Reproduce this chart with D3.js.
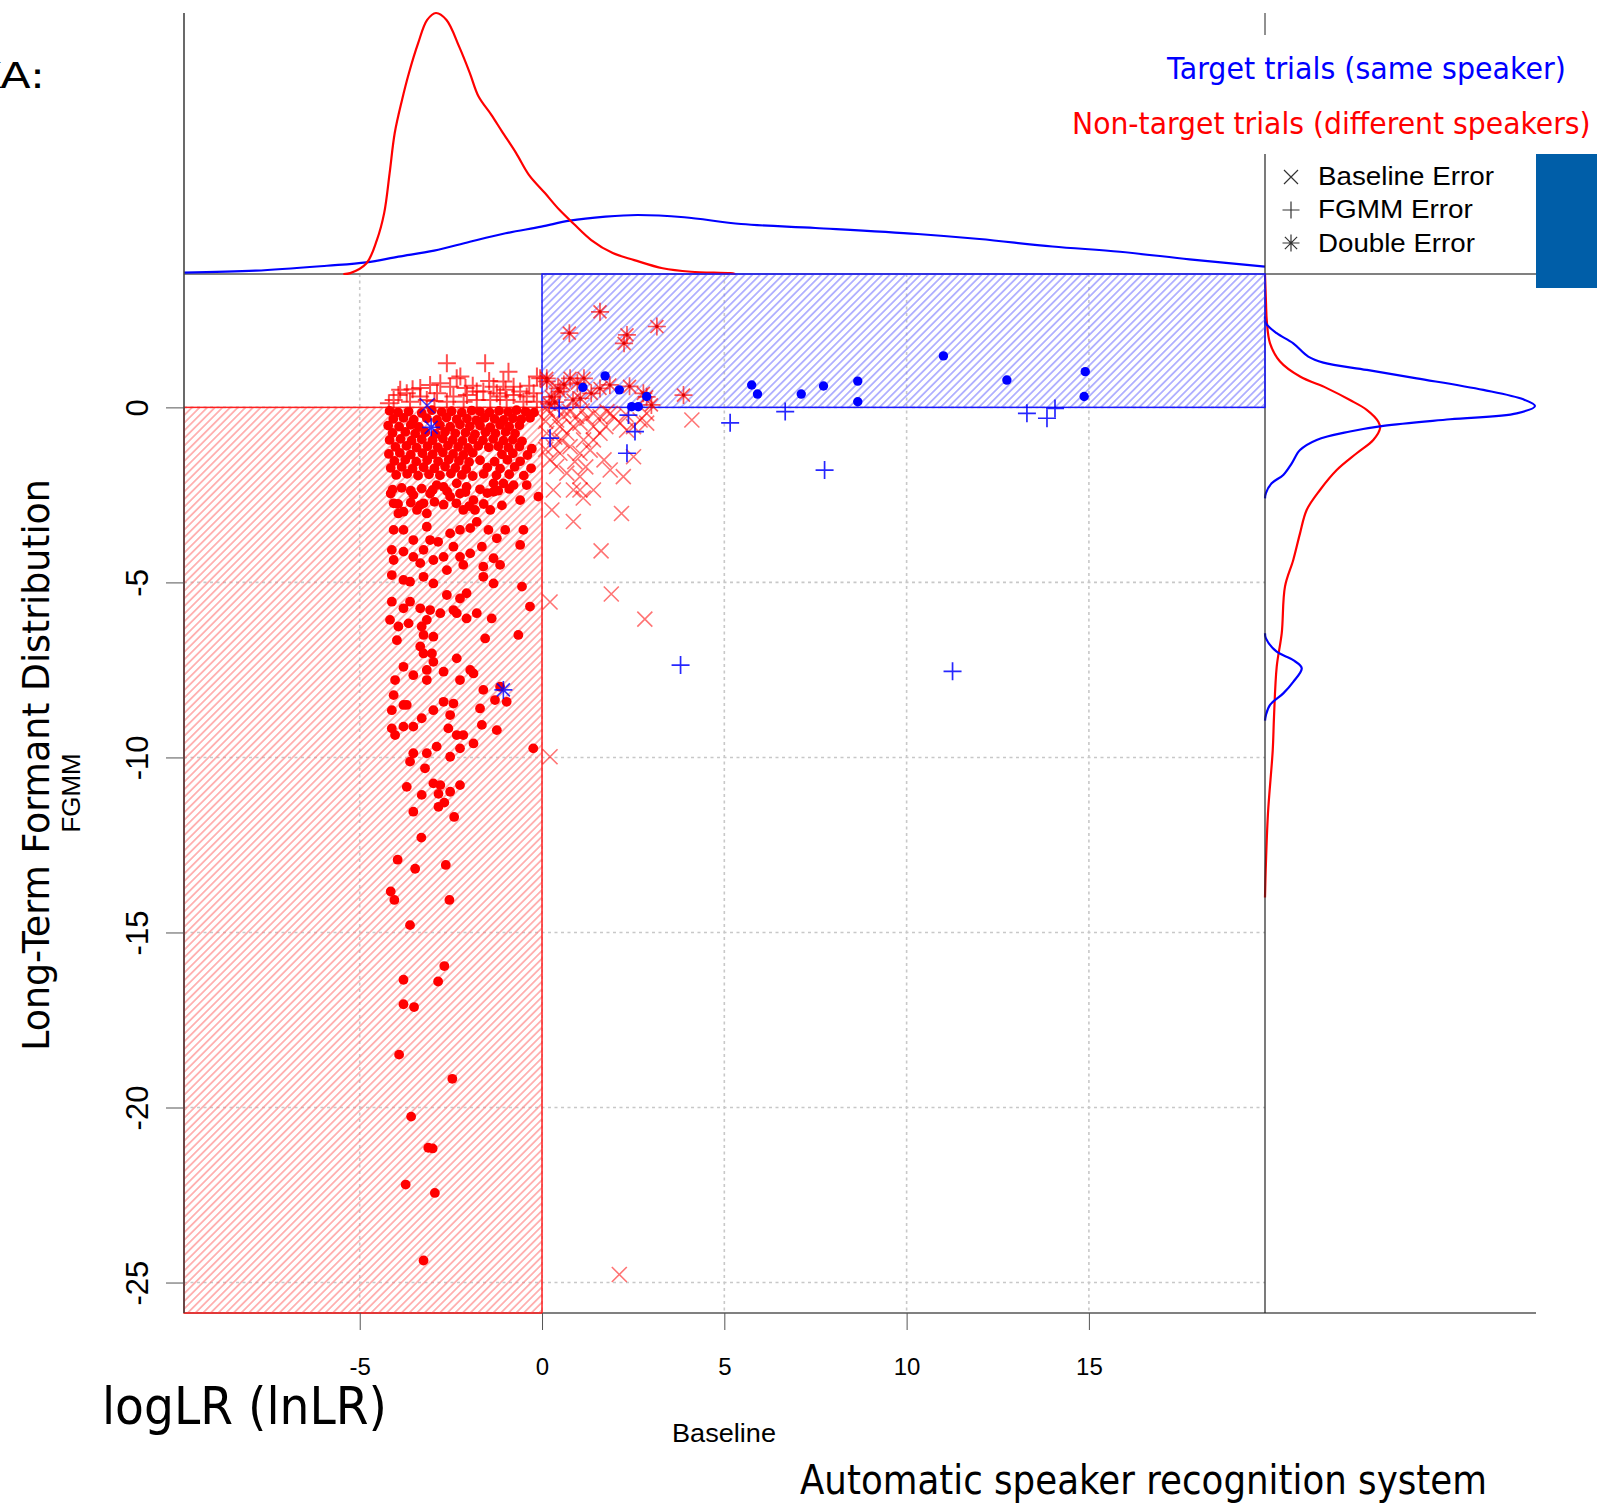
<!DOCTYPE html>
<html>
<head>
<meta charset="utf-8">
<script src="https://cdn.jsdelivr.net/npm/d3@7"></script>
<style>
body { margin: 0; background: #fff; }
svg { display: block; }
</style>
</head>
<body>
<script>
// axes
var xTicks = [-5, 0, 5, 10, 15]
var yTicks = [0, -5, -10, -15, -20, -25]
var xDomain = [-9.82, 19.83]
var yDomain = [-25.87, 3.81]

var seriesLabels = ["Target trials (same speaker)", "Non-target trials (different speakers)"]
var legendLabels = ["Baseline Error", "FGMM Error", "Double Error"]

// marginal densities: [score, density]
var topNontarget = [[-5.45,0],[-5.26,0.001],[-4.82,0.012],[-4.53,0.039],[-4.33,0.070],[-4.18,0.116],[-4.04,0.162],
	[-3.84,0.200],[-3.65,0.231],[-3.40,0.265],[-3.15,0.292],[-2.91,0.300],[-2.62,0.292],[-2.27,0.261],[-1.98,0.231],
	[-1.74,0.204],[-1.39,0.183],[-1.10,0.164],[-0.71,0.139],[-0.36,0.114],[0.08,0.093],[0.47,0.074],[0.86,0.058],
	[1.35,0.039],[1.94,0.024],[2.53,0.016],[3.31,0.0066],[4.09,0.0026],[5.17,0.001],[5.3,0]]
var topTarget = [[-9.82,0.0015],[-7.86,0.0038],[-5.90,0.0095],[-4.82,0.0134],[-3.94,0.0199],[-2.96,0.0268],
	[-1.98,0.0371],[-1.00,0.0468],[-0.02,0.0544],[0.76,0.0613],[1.74,0.0659],[2.62,0.0678],[3.90,0.0652],
	[5.46,0.0575],[7.5,0.0529],[10.3,0.046],[12.0,0.0402],[14.0,0.0316],[15.85,0.0256],[17.76,0.0169],[19.83,0.0084]]
var rightNontarget = [[3.81,0],[3.0,0.0011],[2.47,0.002],[1.83,0.0056],[1.31,0.0167],[0.88,0.0389],[0.55,0.0686],
	[0.21,0.0944],[-0.07,0.113],[-0.41,0.1259],[-0.60,0.1278],[-0.93,0.1203],[-1.31,0.1019],[-1.79,0.0797],
	[-2.36,0.0611],[-2.93,0.0463],[-3.60,0.0389],[-4.36,0.0314],[-5.12,0.0222],[-6.45,0.0186],[-7.41,0.013],
	[-8.84,0.01],[-9.79,0.0086],[-11.6,0.0033],[-13.2,0.0008],[-14.0,0]]
var rightTarget = [[2.6,0],[2.40,0.001],[2.12,0.013],[1.83,0.0314],[1.45,0.0481],[1.28,0.0648],[1.07,0.113],
	[0.83,0.1686],[0.50,0.2426],[0.23,0.287],[0.04,0.300],[-0.17,0.2797],[-0.34,0.2056],[-0.53,0.1314],
	[-0.69,0.0944],[-0.93,0.0574],[-1.22,0.0389],[-1.60,0.0297],[-1.93,0.0203],[-2.17,0.0074],[-2.45,0.001],
	[-2.6,0]]
var rightTargetBump = [[-6.45,0],[-6.60,0.001],[-6.98,0.013],[-7.22,0.0314],[-7.45,0.0408],[-7.84,0.0314],
	[-8.17,0.0203],[-8.50,0.0056],[-8.79,0.001],[-8.95,0]]

// scatter: [baseline, FGMM]
var nontargetOk = [
	[-4.18,-0.10],[-3.95,-0.14],[-3.66,-0.12],[-3.30,-0.16],[-3.02,-0.08],[-2.75,-0.13],[-2.48,-0.11],[-2.20,-0.15],
	[-1.93,-0.09],[-1.70,-0.12],[-1.44,-0.14],[-1.18,-0.10],[-0.93,-0.13],[-0.70,-0.08],[-0.45,-0.12],[-0.22,-0.15],
	[-4.08,-0.33],[-3.80,-0.30],[-3.52,-0.35],[-3.16,-0.31],[-2.88,-0.36],[-2.62,-0.29],[-2.34,-0.34],[-2.06,-0.32],
	[-1.80,-0.37],[-1.57,-0.30],[-1.30,-0.33],[-1.05,-0.36],[-0.80,-0.31],[-0.57,-0.34],[-0.33,-0.30],
	[-4.22,-0.52],[-3.92,-0.55],[-3.60,-0.50],[-3.38,-0.56],[-2.80,-0.51],[-2.52,-0.55],[-2.25,-0.49],[-1.98,-0.54],
	[-1.70,-0.52],[-1.42,-0.57],[-1.15,-0.50],[-0.90,-0.55],[-0.62,-0.51],
	[-4.10,-0.73],[-3.75,-0.70],[-3.48,-0.75],[-3.20,-0.71],[-2.92,-0.76],[-2.66,-0.70],[-2.38,-0.74],[-2.10,-0.72],
	[-1.84,-0.77],[-1.55,-0.71],[-1.28,-0.74],[-1.00,-0.70],[-0.74,-0.75],
	[-4.18,-0.93],[-3.88,-0.90],[-3.58,-0.95],[-3.30,-0.91],[-3.00,-0.94],[-2.72,-0.89],[-2.45,-0.93],[-2.18,-0.96],
	[-1.90,-0.91],[-1.62,-0.94],[-1.34,-0.90],[-1.06,-0.95],[-0.80,-0.92],[-0.55,-0.97],
	[-4.02,-1.13],[-3.72,-1.10],[-3.44,-1.15],[-3.14,-1.11],[-2.86,-1.14],[-2.58,-1.09],[-2.30,-1.13],[-2.03,-1.16],
	[-1.75,-1.10],[-1.46,-1.14],[-1.20,-1.11],[-0.92,-1.15],[-0.62,-1.12],[-0.28,-1.18],
	[-4.20,-1.33],[-3.90,-1.30],[-3.60,-1.35],[-3.28,-1.31],[-3.00,-1.34],[-2.72,-1.29],[-2.44,-1.33],[-2.16,-1.36],
	[-1.90,-1.30],[-1.10,-1.34],[-0.80,-1.31],[-0.40,-1.36],
	[-4.05,-1.53],[-3.75,-1.50],[-3.45,-1.55],[-3.15,-1.51],[-2.85,-1.54],[-2.56,-1.49],[-2.28,-1.53],[-2.00,-1.56],
	[-1.70,-1.51],[-1.30,-1.55],[-0.95,-1.50],[-0.60,-1.54],
	[-4.15,-1.73],[-3.85,-1.70],[-3.55,-1.75],[-3.25,-1.71],[-2.95,-1.74],[-2.66,-1.69],[-2.38,-1.73],[-2.08,-1.76],
	[-1.50,-1.72],[-1.15,-1.75],[-0.75,-1.70],[-0.30,-1.74],
	[-4.00,-1.93],[-3.70,-1.90],[-3.40,-1.95],[-3.10,-1.91],[-2.80,-1.94],[-2.50,-1.89],[-2.20,-1.93],[-1.90,-1.96],
	[-1.60,-1.90],[-1.25,-1.94],[-0.90,-1.91],[-0.50,-1.95],
	[-4.10,-2.35],[-3.85,-2.30],[-3.60,-2.38],[-3.30,-2.32],[-3.00,-2.36],[-2.60,-2.40],[-2.10,-2.42],[-1.70,-2.34],
	[-1.50,-2.45],[-1.20,-2.38],[-0.90,-2.33],
	[-3.95,-2.76],[-3.60,-2.72],[-3.35,-2.80],[-2.95,-2.70],[-2.70,-2.78],[-2.35,-2.74],[-2.00,-2.82],[-1.60,-2.76],[-1.10,-2.80],
	[-4.15,-2.46],[-4.07,-2.74],[-3.94,-3.03],[-3.80,-2.98],[-3.53,-2.50],[-3.43,-2.93],[-3.25,-2.74],[-3.16,-3.03],
	[-3.07,-2.46],[-2.89,-2.22],[-2.70,-2.27],[-2.52,-2.55],[-2.34,-2.17],[-2.25,-2.46],[-2.16,-2.93],[-2.07,-2.27],
	[-1.88,-2.65],[-1.84,-2.93],[-1.42,-2.93],[-1.33,-2.17],[-1.33,-2.41],[-1.06,-2.17],[-0.78,-2.22],[-0.60,-2.65],
	[-0.42,-2.22],[-0.10,-2.55],
	[-4.07,-3.50],[-3.80,-3.50],[-3.53,-3.79],[-3.16,-3.41],[-3.07,-3.79],[-2.85,-3.84],[-2.52,-3.60],[-2.25,-3.50],
	[-1.97,-3.45],[-1.79,-3.27],[-1.47,-3.50],[-1.24,-3.74],[-1.01,-3.50],[-0.51,-3.50],
	[-4.12,-4.07],[-4.07,-4.36],[-3.80,-4.12],[-3.53,-4.27],[-3.34,-4.45],[-3.25,-4.07],[-2.98,-4.36],[-2.70,-4.27],
	[-2.61,-4.65],[-2.43,-3.98],[-2.25,-4.27],[-2.16,-4.50],[-1.97,-4.17],[-1.65,-3.98],[-1.61,-4.55],[-1.33,-4.31],
	[-1.15,-4.50],[-0.60,-3.93],
	[-4.12,-4.79],[-3.80,-4.93],[-3.62,-4.98],[-3.25,-4.84],[-2.98,-5.03],[-2.61,-5.36],[-2.25,-5.46],[-2.07,-5.31],
	[-1.61,-4.84],[-1.33,-5.03],[-0.55,-5.12],
	[-4.12,-5.55],[-3.80,-5.74],[-3.62,-5.55],[-3.34,-5.74],[-3.07,-5.79],[-2.79,-5.88],[-2.43,-5.79],[-2.07,-6.03],
	[-1.79,-5.88],[-1.38,-6.03],[-0.33,-5.69],
	[-4.17,-6.07],[-3.94,-6.26],[-3.66,-6.17],[-3.30,-6.26],[-3.16,-6.07],[-2.98,-6.55],[-3.25,-6.50],[-3.98,-6.65],
	[-2.34,-5.88],[-1.56,-6.60],[-0.65,-6.50],
	[-3.34,-6.83],[-3.25,-7.03],[-3.02,-7.03],[-3.80,-7.41],[-3.53,-7.65],[-3.16,-7.50],[-2.70,-7.55],[-2.34,-7.17],
	[-1.97,-7.50],[-1.88,-7.60],[-2.98,-7.27],
	[-4.03,-7.79],[-3.16,-7.79],[-2.25,-7.79],[-1.61,-8.07],[-1.29,-8.36],[-0.97,-8.41],[-1.15,-7.98],
	[-4.07,-8.22],[-3.80,-8.50],[-3.71,-8.50],[-2.98,-8.65],[-2.70,-8.41],[-2.43,-8.46],[-2.52,-8.79],[-1.70,-8.60],
	[-3.30,-8.88],[-4.12,-8.65],
	[-4.12,-9.17],[-3.80,-9.12],[-3.53,-9.12],[-4.03,-9.36],[-2.57,-9.17],[-2.34,-9.36],[-2.16,-9.36],[-1.24,-9.22],
	[-1.65,-9.07],[-1.88,-9.60],[-0.24,-9.74],
	[-3.53,-9.88],[-3.16,-9.88],[-2.89,-9.69],[-2.52,-9.98],[-2.25,-9.74],[-3.62,-10.12],[-3.21,-10.31],
	[-3.71,-10.84],[-3.30,-11.07],[-2.98,-10.74],[-2.79,-10.79],[-2.52,-10.98],[-2.25,-10.79],
	[-2.84,-11.04],[-3.53,-11.55],[-2.84,-11.41],[-2.68,-11.29],[-2.41,-11.70],[-3.31,-12.29],[-3.96,-12.92],
	[-3.48,-13.18],[-2.64,-13.07],[-4.15,-13.83],[-4.05,-14.07],[-2.54,-14.07],[-3.62,-14.79],[-2.68,-15.96],
	[-3.80,-16.35],[-2.85,-16.40],[-3.80,-17.05],[-3.51,-17.13],[-3.92,-18.49],[-2.46,-19.18],[-3.59,-20.26],
	[-3.12,-21.15],[-3.00,-21.17],[-3.74,-22.20],[-2.94,-22.44],[-3.25,-24.37]
]
var nontargetBaselineErr = [
	[0.22,-0.17],[0.40,-0.36],[0.59,-0.26],[0.77,-0.12],[0.95,-0.26],[0.49,-0.55],[0.68,-0.74],[0.86,-0.55],
	[1.04,-0.45],[1.23,-0.31],[1.41,-0.17],[1.59,-0.26],[1.78,-0.12],[1.96,-0.26],[2.14,-0.45],[2.32,-0.65],
	[2.51,-0.55],[2.69,-0.36],[2.87,-0.45],[0.31,-1.12],[0.49,-1.31],[0.77,-1.12],[1.04,-1.31],[1.41,-0.93],
	[1.59,-0.74],[1.87,-1.79],[2.23,-1.98],[2.51,-1.41],[1.04,-1.98],[1.41,-2.36],[0.31,-2.36],[0.86,-2.36],
	[2.87,-0.17],[4.11,-0.36],[1.87,-0.17],[1.41,-0.55],[1.14,-0.93],[1.32,-1.22],[0.13,-0.74],[0.40,-1.69],
	[0.68,-1.88],[0.22,-1.50],[1.04,-2.36],[1.13,-2.59],[0.27,-2.93],[0.86,-3.26],[2.18,-3.03],[1.62,-4.10],
	[1.90,-5.33],[2.82,-6.05],[0.22,-5.56],[0.22,-9.98],[2.12,-24.77],[0.10,-0.40],[0.15,-0.05],[0.35,-0.85],
	[0.55,-0.95],[0.90,-1.55],[1.20,-1.70],[0.10,-1.20],[0.60,-0.10],[1.10,-0.10],[2.30,-0.20],[1.75,-0.55],[1.70,-1.50]
]
var nontargetFgmmErr = [
	[-2.61,1.26],[-1.56,1.26],[-0.92,1.02],[-2.24,0.88],[-3.89,0.50],[-3.94,0.35],[-3.71,0.40],[-3.34,0.55],
	[-3.07,0.64],[-2.79,0.69],[-2.88,0.40],[-2.52,0.59],[-2.34,0.83],[-2.06,0.35],[-1.79,0.45],[-1.61,0.45],
	[-1.33,0.59],[-1.24,0.40],[-1.06,0.74],[-0.78,0.59],[-0.60,0.45],[-0.42,0.31],[-0.23,0.40],[-0.14,0.88],
	[-0.05,0.83],[-4.07,0.21],[-3.62,0.16],[-3.16,0.21],[-2.61,0.16],[-2.15,0.16],[-1.79,0.21],[-1.42,0.21],
	[-0.97,0.21],[-0.51,0.16],[-0.14,0.16],[-3.34,0.31],[-2.43,0.31],[-1.15,0.31],[-0.78,0.35],[-1.90,0.62],
	[-2.10,0.55],[-1.45,0.75],[-3.55,0.52],[-0.35,0.62],[-2.95,0.18],[-4.20,0.12],[-1.00,0.50]
]
var nontargetDoubleErr = [
	[1.59,2.73],[0.75,2.12],[2.33,2.07],[2.25,1.83],[3.15,2.31],[3.88,0.35],[0.13,0.83],[0.77,0.83],[0.97,0.69],
	[1.15,0.83],[1.59,0.54],[1.86,0.64],[0.44,0.54],[0.26,0.30],[0.85,0.21],[2.78,0.40],[2.87,0.30],[3.00,0.07],
	[1.05,0.26],[0.13,0.74],[0.49,0.45],[0.35,0.15],[0.60,0.65],[0.20,0.10],[1.35,0.40],[2.40,0.60]
]
var targetOk = [
	[1.73,0.90],[2.12,0.50],[1.12,0.57],[2.46,0.02],[2.64,0.02],[2.87,0.31],[5.75,0.64],[5.91,0.38],[7.11,0.38],
	[7.72,0.61],[8.66,0.75],[8.66,0.16],[11.01,1.47],[12.75,0.78],[14.90,1.02],[14.87,0.31]
]
var targetBaselineErr = [[-3.15,0.05]]
var targetFgmmErr = [
	[0.47,-0.03],[2.37,-0.22],[2.55,-0.69],[2.33,-1.31],[5.16,-0.44],[6.67,-0.12],[7.75,-1.79],[0.22,-0.88],
	[13.30,-0.17],[13.85,-0.31],[14.07,-0.03],[3.80,-7.36],[11.26,-7.54]
]
var targetDoubleErr = [[-3.04,-0.57],[-1.06,-8.07]]

var w = 1597
var h = 1504

var svg = d3.select("body").append("svg")
	.attr("width", w)
	.attr("height", h)

var x = d3.scaleLinear().domain(xDomain).range([184, 1265])
var y = d3.scaleLinear().domain(yDomain).range([1313, 274])
var dTop = d3.scaleLinear().domain([0, 0.3]).range([274, 13])
var dRight = d3.scaleLinear().domain([0, 0.3]).range([1265, 1535])

var defs = svg.append("defs")
function hatch(id, color) {
	defs.append("pattern")
		.attr("id", id)
		.attr("patternUnits", "userSpaceOnUse")
		.attr("width", 5.4)
		.attr("height", 5.4)
		.attr("patternTransform", "rotate(45)")
		.append("line")
		.attr("x1", 2.7).attr("y1", 0)
		.attr("x2", 2.7).attr("y2", 5.4)
		.attr("stroke", color)
		.attr("stroke-width", 1.1)
}
hatch("hatchRed", "#ff7d7d")
hatch("hatchBlue", "#7d7dff")

// grid
var grid = svg.append("g")
	.attr("stroke", "#c8c8c8")
	.attr("stroke-width", 1.6)
	.attr("stroke-dasharray", "3,3.5")
grid.selectAll(".vg").data(xTicks).enter().append("line")
	.attr("x1", (d) => x(d)).attr("x2", (d) => x(d))
	.attr("y1", y.range()[1]).attr("y2", y.range()[0])
grid.selectAll(".hg").data(yTicks).enter().append("line")
	.attr("y1", (d) => y(d)).attr("y2", (d) => y(d))
	.attr("x1", x.range()[0]).attr("x2", x.range()[1])

// frame lines
svg.append("line")
	.attr("x1", 184).attr("x2", 1536)
	.attr("y1", y(yDomain[1])).attr("y2", y(yDomain[1]))
	.attr("stroke", "#808080").attr("stroke-width", 2)
svg.append("line")
	.attr("x1", 184).attr("x2", 1536)
	.attr("y1", y(yDomain[0])).attr("y2", y(yDomain[0]))
	.attr("stroke", "#808080").attr("stroke-width", 2)
svg.append("line")
	.attr("x1", x(xDomain[1])).attr("x2", x(xDomain[1]))
	.attr("y1", 13).attr("y2", 35)
	.attr("stroke", "#222").attr("stroke-width", 1)

// decision regions
svg.append("rect")
	.attr("x", x(xDomain[0])).attr("y", y(0))
	.attr("width", x(0) - x(xDomain[0]))
	.attr("height", y(yDomain[0]) - y(0))
	.attr("fill", "url(#hatchRed)")
	.attr("stroke", "#ff2020").attr("stroke-width", 1.5)

// marginal densities
var topLine = d3.line().x((d) => x(d[0])).y((d) => dTop(d[1])).curve(d3.curveCatmullRom)
var rightLine = d3.line().x((d) => dRight(d[1])).y((d) => y(d[0])).curve(d3.curveCatmullRom)
svg.append("path").attr("d", topLine(topTarget))
	.attr("fill", "none").attr("stroke", "#0000ff").attr("stroke-width", 2.2)
svg.append("path").attr("d", topLine(topNontarget))
	.attr("fill", "none").attr("stroke", "#ff0000").attr("stroke-width", 2.2)
svg.append("path").attr("d", rightLine(rightNontarget))
	.attr("fill", "none").attr("stroke", "#ff0000").attr("stroke-width", 2.2)
svg.append("path").attr("d", rightLine(rightTarget))
	.attr("fill", "none").attr("stroke", "#0000ff").attr("stroke-width", 2.2)
svg.append("path").attr("d", rightLine(rightTargetBump))
	.attr("fill", "none").attr("stroke", "#0000ff").attr("stroke-width", 2.2)

svg.append("line")
	.attr("x1", x(xDomain[1])).attr("x2", x(xDomain[1]))
	.attr("y1", 154).attr("y2", y(yDomain[0]))
	.attr("stroke", "#222").attr("stroke-width", 1.2)
svg.append("rect")
	.attr("x", x(0)).attr("y", y(yDomain[1]))
	.attr("width", x(xDomain[1]) - x(0))
	.attr("height", y(0) - y(yDomain[1]))
	.attr("fill", "url(#hatchBlue)")
	.attr("stroke", "#1a1aff").attr("stroke-width", 1.5)
svg.append("line")
	.attr("x1", 184).attr("x2", 184)
	.attr("y1", 13).attr("y2", y(yDomain[0]))
	.attr("stroke", "#444").attr("stroke-width", 1.6)

// marker shapes
function plusPath(s) { return "M" + (-s) + ",0H" + s + "M0," + (-s) + "V" + s }
function crossPath(s) { return "M" + (-s) + "," + (-s) + "L" + s + "," + s + "M" + (-s) + "," + s + "L" + s + "," + (-s) }
function starPath(s) { return plusPath(s) + crossPath(s * 0.72) }

function drawMarks(data, path, color, opacity, width) {
	svg.append("g").selectAll("path")
		.data(data)
		.enter()
		.append("path")
		.attr("transform", (d) => "translate(" + x(d[0]) + "," + y(d[1]) + ")")
		.attr("d", path)
		.attr("fill", "none")
		.attr("stroke", color)
		.attr("stroke-opacity", opacity)
		.attr("stroke-width", width)
}
function drawDots(data, color, r) {
	svg.append("g").selectAll("circle")
		.data(data)
		.enter()
		.append("circle")
		.attr("cx", (d) => x(d[0]))
		.attr("cy", (d) => y(d[1]))
		.attr("r", r)
		.attr("fill", color)
}

drawDots(nontargetOk, "#ff0000", 4.9)
drawMarks(nontargetBaselineErr, crossPath(7.5), "#ff0000", 0.55, 1.6)
drawMarks(nontargetFgmmErr, plusPath(9), "#ff0000", 0.7, 2)
drawMarks(nontargetDoubleErr, starPath(9), "#ff0000", 0.65, 1.7)
drawDots(nontargetDoubleErr, "#e00000", 1.8)
drawDots(targetOk, "#0000ff", 4.7)
drawMarks(targetFgmmErr, plusPath(9), "#0000ff", 0.85, 1.7)
drawMarks(targetBaselineErr, crossPath(7.5), "#0000ff", 0.7, 1.5)
drawMarks(targetDoubleErr, starPath(9), "#0000ff", 0.8, 1.6)

// axes
var rFont = "'Liberation Sans', Arial, sans-serif"
var slideFont = "'DejaVu Sans', Verdana, sans-serif"

var xAxis = d3.axisBottom(x).tickValues(xTicks).tickSize(17).tickFormat((d) => String(d))
var gx = svg.append("g")
	.attr("transform", "translate(0," + y(yDomain[0]) + ")")
	.call(xAxis)
gx.select(".domain").remove()
gx.selectAll(".tick line").attr("stroke", "#555")
gx.selectAll("text")
	.attr("y", 62).attr("dy", 0)
	.attr("fill", "#000")
	.style("font-family", rFont)
	.style("font-size", "24px")

var yAxis = d3.axisLeft(y).tickValues(yTicks).tickSize(18).tickFormat((d) => String(d))
var gy = svg.append("g")
	.attr("transform", "translate(184,0)")
	.call(yAxis)
gy.select(".domain").remove()
gy.selectAll(".tick line").attr("stroke", "#555")
gy.selectAll("text")
	.attr("transform", "rotate(-90)")
	.attr("x", 0).attr("y", -36.5).attr("dy", 0)
	.attr("text-anchor", "middle")
	.attr("fill", "#000")
	.style("font-family", rFont)
	.style("font-size", "31px")

// texts, squeezed horizontally to the measured width
function label(txt, px, py, size, family, color, len, anchor, rot) {
	var t = svg.append("text")
		.attr("text-anchor", anchor || "start")
		.attr("fill", color)
		.style("font-family", family)
		.style("font-size", size + "px")
		.text(txt)
	var sx = len / t.node().getComputedTextLength()
	t.attr("transform", "translate(" + px + "," + py + ")" + (rot ? " rotate(" + rot + ")" : "") + " scale(" + sx + ",1)")
	return t
}

label("KA:", -28, 88, 35, slideFont, "#000", 73)
label(seriesLabels[0], 1167, 79, 31, slideFont, "#0000ff", 399)
label(seriesLabels[1], 1072, 134, 31, slideFont, "#ff0000", 519)
label("logLR (lnLR)", 102, 1424, 51, slideFont, "#000", 285)
label("Baseline", 724, 1442, 26, rFont, "#000", 104, "middle")
label("Automatic speaker recognition system", 800, 1494, 40, slideFont, "#000", 687)
label("Long-Term Formant Distribution", 49, 765, 38, slideFont, "#000", 572, "middle", -90)
label("FGMM", 79.5, 793, 25, rFont, "#000", 79, "middle", -90)

// legend
var legendPaths = [crossPath(7), plusPath(8.5), starPath(8.5)]
var legendLen = [176, 155, 157]
svg.append("g").selectAll("path")
	.data(legendLabels)
	.enter()
	.append("path")
	.attr("transform", (d, i) => "translate(1291," + (177 + i * 33) + ")")
	.attr("d", (d, i) => legendPaths[i])
	.attr("fill", "none")
	.attr("stroke", "#333")
	.attr("stroke-width", 1.2)
legendLabels.forEach((d, i) => label(d, 1318, 185 + i * 33.3, 26, rFont, "#000", legendLen[i]))

svg.append("rect")
	.attr("x", 1536).attr("y", 154)
	.attr("width", w - 1536).attr("height", 134)
	.attr("fill", "#005ea8")
</script>
</body>
</html>
